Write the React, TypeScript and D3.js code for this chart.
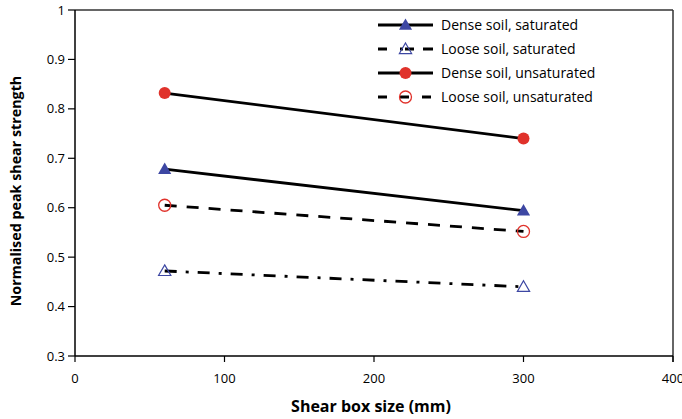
import React from "react";
import * as d3 from "d3";

const boxSizes = [60, 300];
const denseSaturated = [0.678, 0.594];
const looseSaturated = [0.472, 0.44];
const denseUnsaturated = [0.832, 0.74];
const looseUnsaturated = [0.605, 0.552];
const xTicks = [0, 100, 200, 300, 400];
const yTicks = [0.3, 0.4, 0.5, 0.6, 0.7, 0.8, 0.9, 1];
const seriesNames = [
  "Dense soil, saturated",
  "Loose soil, saturated",
  "Dense soil, unsaturated",
  "Loose soil, unsaturated",
];

const W = 682;
const H = 419;
const FONT = "'Open Sans', 'Liberation Sans', sans-serif";
const BLUE = "#3D47A3";
const RED = "#E0322B";

type S = {
  name: string;
  values: number[];
  dash: string;
  marker: "tri" | "circle";
  filled: boolean;
  color: string;
};

const series: S[] = [
  { name: seriesNames[0], values: denseSaturated, dash: "", marker: "tri", filled: true, color: BLUE },
  { name: seriesNames[1], values: looseSaturated, dash: "12,9,3,9", marker: "tri", filled: false, color: BLUE },
  { name: seriesNames[2], values: denseUnsaturated, dash: "", marker: "circle", filled: true, color: RED },
  { name: seriesNames[3], values: looseUnsaturated, dash: "12,10", marker: "circle", filled: false, color: RED },
];

function Marker({ s, x, y }: { s: S; x: number; y: number }) {
  if (s.marker === "circle") {
    return s.filled ? (
      <circle cx={x} cy={y} r={6} fill={s.color} />
    ) : (
      <circle cx={x} cy={y} r={6} fill="none" stroke={s.color} strokeWidth={1.3} />
    );
  }
  const sym = d3.symbol().type(d3.symbolTriangle).size(s.filled ? 75 : 65)();
  return s.filled ? (
    <path d={sym as string} transform={`translate(${x},${y + 1})`} fill={s.color} />
  ) : (
    <path d={sym as string} transform={`translate(${x},${y + 1})`} fill="none" stroke={s.color} strokeWidth={1.2} />
  );
}

export default function App() {
  const left = 75;
  const right = 673;
  const top = 10;
  const bottom = 356;
  const x = d3.scaleLinear().domain([0, 400]).range([left, right]);
  const y = d3.scaleLinear().domain([0.3, 1]).range([bottom, top]);
  const line = d3
    .line<number>()
    .x((_, i) => x(boxSizes[i]))
    .y((d) => y(d));

  const legX0 = 378;
  const legX1 = 433;
  const legRows = [25, 49, 73, 97];

  return (
    <svg width={W} height={H} style={{ position: "absolute", left: 0, top: 0, background: "#fff" }}>
      {/* frame top/right */}
      <line x1={left} x2={right} y1={top} y2={top} stroke="#333" strokeWidth={1.5} />
      <line x1={right} x2={right} y1={top} y2={bottom + 6} stroke="#333" strokeWidth={1.5} />
      {/* axes */}
      <line x1={left} x2={left} y1={top} y2={bottom} stroke="#000" strokeWidth={1.5} />
      <line x1={left} x2={right} y1={bottom} y2={bottom} stroke="#000" strokeWidth={1.5} />
      {yTicks.map((t) => (
        <g key={t}>
          <line x1={left - 7} x2={left} y1={y(t)} y2={y(t)} stroke="#000" strokeWidth={1.2} />
          <text x={left - 10} y={y(t)} dy="0.35em" textAnchor="end" fontFamily={FONT} fontSize={13} fill="#000">
            {t === 1 ? "1" : t.toFixed(1)}
          </text>
        </g>
      ))}
      {xTicks.map((t) => (
        <g key={t}>
          <line x1={x(t)} x2={x(t)} y1={bottom} y2={bottom + 6} stroke="#000" strokeWidth={1.2} />
          <text x={x(t)} y={bottom + 27} textAnchor="middle" fontFamily={FONT} fontSize={13} fill="#000">
            {t}
          </text>
        </g>
      ))}
      <text x={371} y={412} textAnchor="middle" fontFamily={FONT} fontSize={16} fontWeight="bold" fill="#000">
        Shear box size (mm)
      </text>
      <text
        transform={`translate(21,191) rotate(-90)`}
        textAnchor="middle"
        fontFamily={FONT}
        fontSize={14.3}
        fontWeight="bold"
        fill="#000"
      >
        Normalised peak shear strength
      </text>
      {/* series */}
      {series.map((s) => (
        <g key={s.name}>
          <path d={line(s.values) as string} fill="none" stroke="#000" strokeWidth={2.8} strokeDasharray={s.dash} />
          {s.values.map((v, i) => (
            <Marker key={i} s={s} x={x(boxSizes[i])} y={y(v)} />
          ))}
        </g>
      ))}
      {/* legend */}
      {series.map((s, i) => (
        <g key={"leg" + s.name}>
          <line
            x1={legX0}
            x2={legX1}
            y1={legRows[i]}
            y2={legRows[i]}
            stroke="#000"
            strokeWidth={2.8}
            strokeDasharray={s.dash ? (s.marker === "tri" ? "9,13,3,2,9" : "9,13") : ""}
          />
          <Marker s={s} x={(legX0 + legX1) / 2} y={legRows[i]} />
          <text x={441} y={legRows[i]} dy="0.35em" fontFamily={FONT} fontSize={14} fill="#000">
            {s.name}
          </text>
        </g>
      ))}
    </svg>
  );
}
